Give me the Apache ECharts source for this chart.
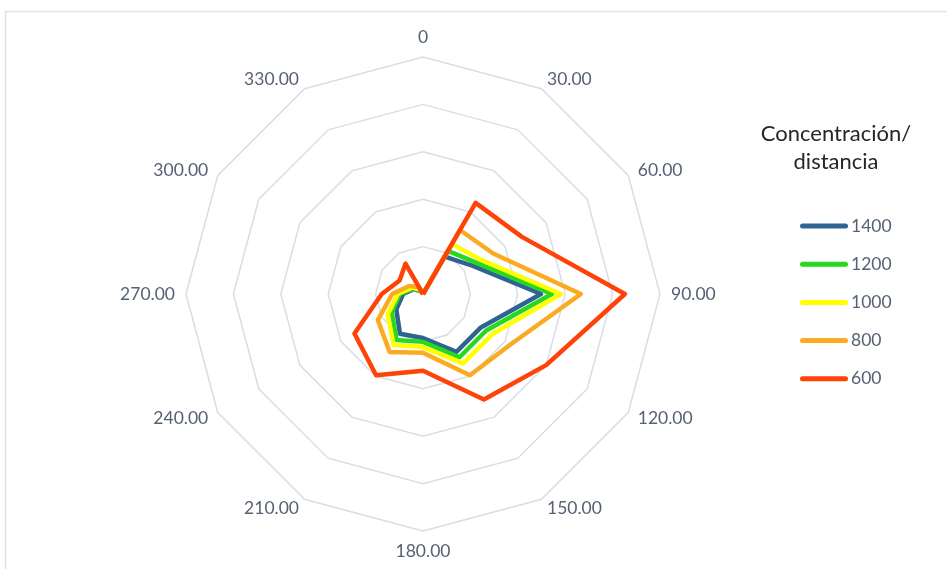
<!DOCTYPE html>
<html>
<head>
<meta charset="utf-8">
<script src="https://cdn.jsdelivr.net/npm/echarts@6/dist/echarts.min.js"></script>
<style>
  html, body { margin: 0; padding: 0; background: #ffffff; }
  #chart { width: 946px; height: 569px; }
</style>
</head>
<body>
<div id="chart"></div>
<script>
// Direction labels (degrees, clockwise from north)
const directions = ['0', '30.00', '60.00', '90.00', '120.00', '150.00', '180.00', '210.00', '240.00', '270.00', '300.00', '330.00'];

// Series names (distance) and their values, one per direction above
const seriesNames = ['1400', '1200', '1000', '800', '600'];
const values1400 = [0, 9.1, 12.0, 24.9, 14.1, 14.1, 9.3, 9.7, 6.5, 4.2, 2.1, 0.6];
const values1200 = [0, 10.5, 13.1, 27.2, 15.4, 15.4, 10.1, 11.2, 7.6, 4.9, 2.3, 0.8];
const values1000 = [0, 12.2, 14.3, 29.1, 16.9, 16.9, 11.2, 12.4, 8.6, 5.3, 2.7, 1.1];
const values800  = [0, 15.6, 17.1, 33.3, 21.3, 19.8, 12.4, 14.1, 11.0, 6.5, 3.4, 1.7];
const values600  = [0, 22.2, 24.1, 42.6, 30.0, 25.7, 16.2, 19.8, 16.7, 8.7, 5.7, 7.4];

const seriesValues = [values1400, values1200, values1000, values800, values600];
const seriesColors = ['#2f6391', '#27d81f', '#ffff00', '#fbab20', '#fe4208'];

const axisMax = 50;

// The radar lays indicators out counter-clockwise, so walk the
// directions in reverse (after north) to get a clockwise compass.
function clockwise(arr) {
  return [arr[0]].concat(arr.slice(1).reverse());
}

const indicators = clockwise(directions).map(name => ({ name: name, min: 0, max: axisMax }));

const labelColor = '#566174';
const fontFamily = 'Lato, "Open Sans", sans-serif';

const chart = echarts.init(document.getElementById('chart'), null, { renderer: 'canvas' });

chart.setOption({
  animation: false,
  backgroundColor: '#ffffff',
  graphic: [
    {
      type: 'rect',
      shape: { x: 5.5, y: 11.5, width: 1200, height: 1200 },
      style: { fill: 'none', stroke: '#dde2e8', lineWidth: 1.5 },
      silent: true,
      z: -10
    },
    {
      type: 'text',
      x: 836,
      y: 120,
      style: {
        text: 'Concentración/\ndistancia',
        textAlign: 'center',
        font: '22px ' + fontFamily,
        lineHeight: 28,
        fill: '#262626'
      }
    }
  ],
  legend: {
    orient: 'vertical',
    left: 800,
    top: 217,
    padding: 0,
    itemWidth: 48,
    itemHeight: 5,
    itemGap: 20.2,
    icon: 'path://M2.5,0 L45.5,0 A2.5,2.5 0 0 1 45.5,5 L2.5,5 A2.5,2.5 0 0 1 2.5,0 Z',
    data: seriesNames,
    textStyle: { color: labelColor, fontSize: 17.5, fontFamily: fontFamily, padding: [0, 0, 0, -2] }
  },
  radar: {
    center: [423, 294],
    radius: 237,
    startAngle: 90,
    shape: 'polygon',
    splitNumber: 5,
    indicator: indicators,
    axisName: { color: labelColor, fontSize: 17.5, fontFamily: fontFamily },
    nameGap: 11,
    axisLine: { show: false },
    axisTick: { show: false },
    axisLabel: { show: false },
    splitArea: { show: false },
    splitLine: { lineStyle: { color: '#d8dee6', width: 1.5 } }
  },
  series: seriesNames.map((name, i) => ({
    type: 'radar',
    name: name,
    symbol: 'none',
    z: 2 + i,
    lineStyle: { color: seriesColors[i], width: 4.5, join: 'round' },
    itemStyle: { color: seriesColors[i], borderWidth: 0 },
    data: [{ name: name, value: clockwise(seriesValues[i]) }]
  }))
});
</script>
</body>
</html>
